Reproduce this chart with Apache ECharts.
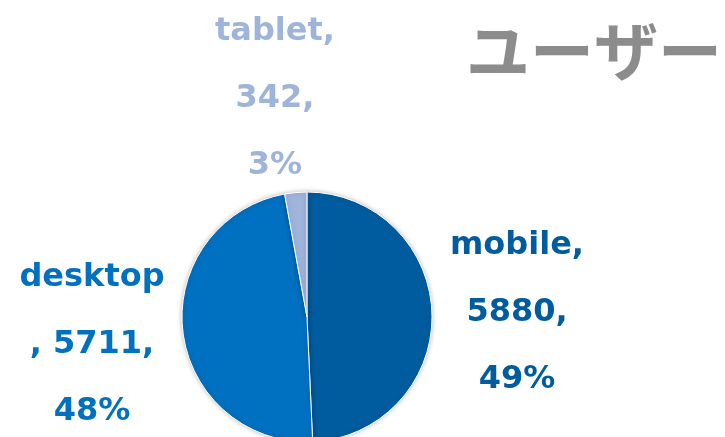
<!DOCTYPE html>
<html><head><meta charset="utf-8">
<script src="https://cdn.jsdelivr.net/npm/echarts@6/dist/echarts.min.js"></script>
<style>html,body{margin:0;padding:0;background:#fff}#c{width:725px;height:437px}</style>
</head><body><div id="c"></div>
<script>
const titleText = 'ユーザー';
const categories = ['mobile', 'desktop', 'tablet'];
const values = [5880, 5711, 342];
const colors = ['#005C9E', '#0070C0', '#9FB4DA'];
const labelPos = [[517, 313], [92, 345], [275, 99]];

const chart = echarts.init(document.getElementById('c'), null, {renderer: 'canvas'});
chart.setOption({
  animation: false,
  title: {
    text: titleText, left: 461, top: 14,
    textStyle: {color: '#8C8C8C', fontSize: 64, fontWeight: 'bold', fontFamily: 'Noto Sans CJK JP'}
  },
  series: [{
    type: 'pie',
    center: [307, 317],
    radius: 125,
    startAngle: 90,
    clockwise: true,
    data: categories.map((c, i) => ({name: c, value: values[i], itemStyle: {color: colors[i]}, label: {color: colors[i]}})),
    itemStyle: {borderColor: '#ffffff', borderWidth: 1, shadowBlur: 5, shadowColor: 'rgba(0,0,0,0.25)'},
    label: {
      show: true,
      position: 'outside',
      overflow: 'none',
      width: 300,
      fontFamily: 'DejaVu Sans',
      fontWeight: 'bold',
      fontSize: 32,
      lineHeight: 67,
      align: 'center',
      formatter: p => {
        const pct = Math.round(p.percent) + '%';
        if (p.name === 'desktop') return 'desktop\n, ' + p.value + ',\n' + pct;
        return p.name + ',\n' + p.value + ',\n' + pct;
      }
    },
    labelLine: {show: false},
    labelLayout: p => ({x: labelPos[p.dataIndex][0], y: labelPos[p.dataIndex][1], align: 'center', verticalAlign: 'middle'})
  }]
});
</script></body></html>
